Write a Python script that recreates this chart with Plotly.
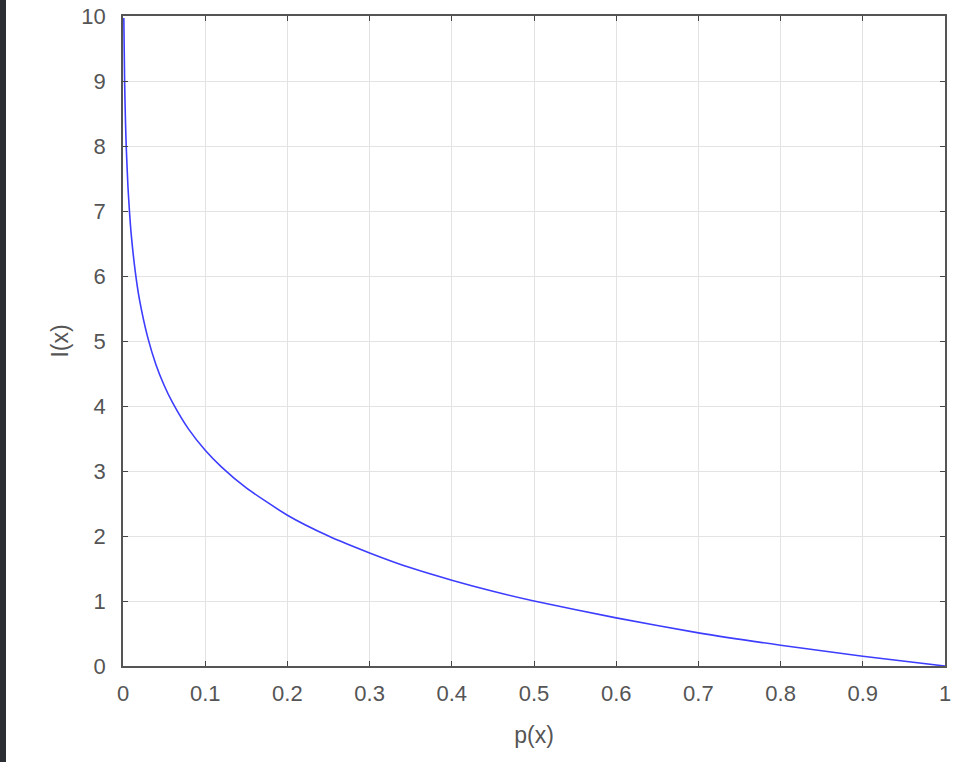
import plotly.graph_objects as go

p_vals = [0.001, 0.002, 0.003, 0.004, 0.006, 0.008, 0.01, 0.015, 0.02, 0.03, 0.04, 0.05,
          0.06, 0.08, 0.1, 0.12, 0.15, 0.2, 0.25, 0.3, 0.35, 0.4, 0.45, 0.5, 0.6,
          0.7, 0.8, 0.9, 1.0]
i_vals = [9.97, 8.97, 8.38, 7.97, 7.38, 6.97, 6.64, 6.06, 5.64, 5.06, 4.64, 4.32,
          4.06, 3.64, 3.32, 3.06, 2.74, 2.32, 2.0, 1.74, 1.51, 1.32, 1.15, 1.0, 0.74,
          0.51, 0.32, 0.15, 0.0]
x_ticks = [0, 0.1, 0.2, 0.3, 0.4, 0.5, 0.6, 0.7, 0.8, 0.9, 1]
x_ticklabels = ["0", "0.1", "0.2", "0.3", "0.4", "0.5", "0.6", "0.7", "0.8", "0.9", "1"]
y_ticks = list(range(0, 11))

FONT = "Liberation Sans, Arial, Helvetica"

fig = go.Figure()
fig.add_trace(go.Scatter(x=p_vals, y=i_vals, mode="lines",
                         line=dict(color="#3d3dff", width=1.6, shape="spline", smoothing=0.6),
                         showlegend=False))

axis_common = dict(showline=True, linecolor="#555555", linewidth=1.5, mirror="ticks",
                   ticks="inside", ticklen=5, tickcolor="#444444", tickwidth=1.2,
                   showgrid=True, gridcolor="#e3e3e3", gridwidth=1, zeroline=False,
                   automargin=False,
                   tickfont=dict(family=FONT, size=22, color="#555555"))

fig.update_layout(
    width=966, height=762,
    margin=dict(l=123, r=21, t=16, b=96),
    paper_bgcolor="white", plot_bgcolor="white",
    xaxis=dict(range=[0, 1], tickvals=x_ticks, ticktext=x_ticklabels,
               title=dict(text="p(x)", font=dict(family=FONT, size=23, color="#555555"), standoff=22),
               ticklabelstandoff=7, **axis_common),
    yaxis=dict(range=[0, 10], tickvals=y_ticks,
               title=dict(text="I(x)", font=dict(family=FONT, size=23, color="#555555"), standoff=6),
               ticklabelstandoff=11, **axis_common),
    shapes=[dict(type="rect", xref="paper", yref="paper",
                 x0=-123 / 822, x1=(6 - 123) / 822, y0=-96 / 650, y1=(650 + 16) / 650,
                 fillcolor="#2b2f33", line=dict(width=0), layer="below")],
)

fig.write_html("out.html", config={"displayModeBar": False},
               post_script="document.body.style.margin='0';document.body.style.padding='0';")
